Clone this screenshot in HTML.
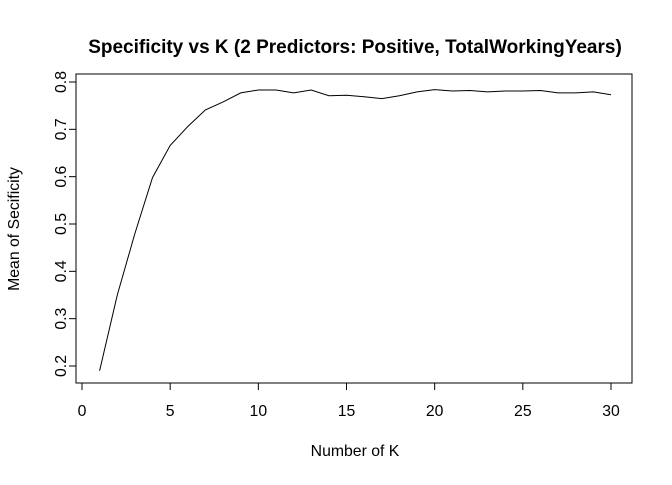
<!DOCTYPE html>
<html><head><meta charset="utf-8"><style>body{margin:0;background:#fff}svg{font-family:"Liberation Sans",Arial,sans-serif}</style></head>
<body>
<svg id="c" width="672" height="480" viewBox="0 0 672 480">
<rect width="672" height="480" fill="#fff"/>
<text x="355" y="53" text-anchor="middle" font-weight="bold" font-size="19">Specificity vs K (2 Predictors: Positive, TotalWorkingYears)</text>
<text x="355" y="456" text-anchor="middle" font-size="15.8">Number of K</text>
<text transform="translate(19,229) rotate(-90)" text-anchor="middle" font-size="15.8">Mean of Secificity</text>
<rect x="76" y="74" width="556" height="309" fill="none" stroke="#000"/>
<g id="ax"></g>
<path id="ln" fill="none" stroke="#000" stroke-width="1"/>
</svg>
<script>
const ks=[1,2,3,4,5,6,7,8,9,10,11,12,13,14,15,16,17,18,19,20,21,22,23,24,25,26,27,28,29,30];
const spec=[0.19,0.35,0.48,0.598,0.666,0.706,0.741,0.758,0.777,0.783,0.783,0.777,0.783,0.771,0.772,0.769,0.765,0.771,0.779,0.784,0.781,0.782,0.779,0.781,0.781,0.782,0.777,0.777,0.779,0.773];
const xTicks=[0,5,10,15,20,25,30];
const yTicks=[0.2,0.3,0.4,0.5,0.6,0.7,0.8];
const X=v=>82+v*(611-82)/30;
const Y=v=>366-(v-0.2)*(366-82)/0.6;
const ax=document.getElementById('ax');
const ns='http://www.w3.org/2000/svg';
function mk(t,a){const e=document.createElementNS(ns,t);for(const k in a)e.setAttribute(k,a[k]);ax.appendChild(e);return e;}
mk('line',{x1:X(0),x2:X(30),y1:383,y2:383,stroke:'#000'});
mk('line',{x1:76,x2:76,y1:Y(0.2),y2:Y(0.8),stroke:'#000'});
xTicks.forEach(t=>{
 const l=mk('line',{x1:X(t),x2:X(t),y1:383,y2:390,stroke:'#000'});
 
 
 const s=mk('text',{x:X(t),y:416,'text-anchor':'middle','font-size':'15.8'});s.textContent=t;
 
 
});
yTicks.forEach(t=>{
 const l=mk('line',{x1:69,x2:76,y1:Y(t),y2:Y(t),stroke:'#000'});
 
 
 const s=mk('text',{transform:`translate(66,${Y(t)}) rotate(-90)`,'text-anchor':'middle','font-size':'15.8'});s.textContent=t.toFixed(1);
 
 
});
document.getElementById('ln').setAttribute('d',ks.map((k,i)=>(i?'L':'M')+X(k).toFixed(1)+','+Y(spec[i]).toFixed(1)).join(''));
</script>
</body></html>
